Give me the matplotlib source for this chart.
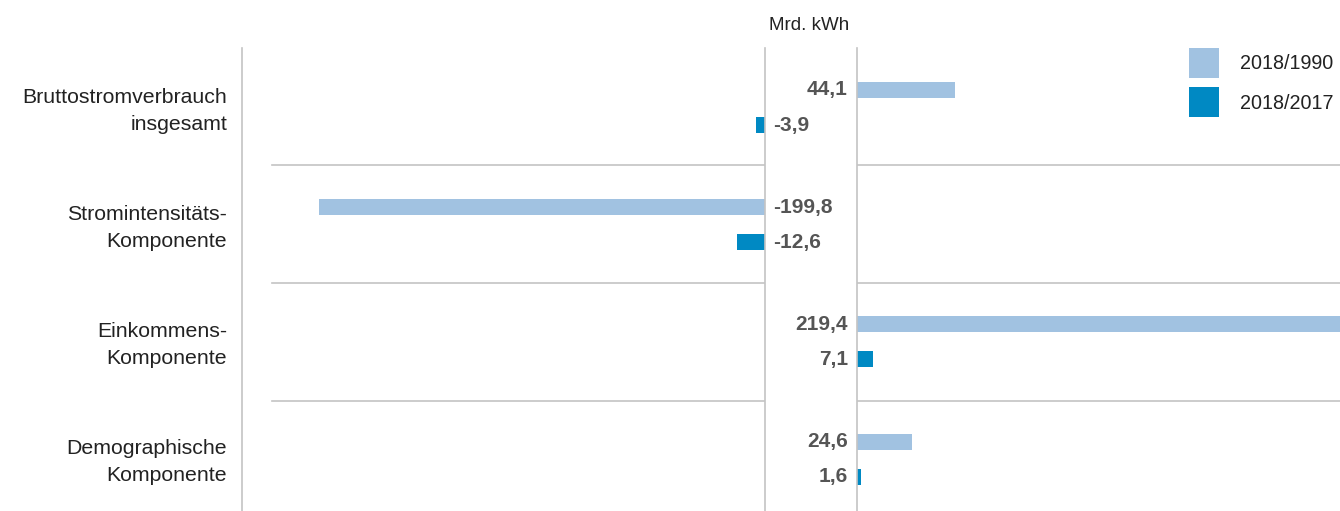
import matplotlib
matplotlib.use("Agg")
import matplotlib.pyplot as plt

categories = ["Bruttostromverbrauch\ninsgesamt", "Stromintensitäts-\nKomponente",
              "Einkommens-\nKomponente", "Demographische\nKomponente"]
series_names = ["2018/1990", "2018/2017"]
values_1990 = [44.1, -199.8, 219.4, 24.6]
values_2017 = [-3.9, -12.6, 7.1, 1.6]
labels_1990 = ["44,1", "-199,8", "219,4", "24,6"]
labels_2017 = ["-3,9", "-12,6", "7,1", "1,6"]
unit_label = "Mrd. kWh"

colors = ["#a1c2e1", "#0089c3"]
grid_col = "#c4c4c4"
num_col = "#555555"
txt_col = "#222222"

W, H = 1340, 511
fig = plt.figure(figsize=(W / 100, H / 100), dpi=100)
plt.rcParams['font.family'] = ['Liberation Sans', 'DejaVu Sans']

px_per_unit = 2.23
top, bottom = 48, 511
xl0, xl1 = 242, 765
xr0, xr1 = 857, 1340
grp_px = 117.2
first_center = 107.5


def fx(p):
    return p / W


axL = fig.add_axes([fx(xl0), 1 - bottom / H, fx(xl1 - xl0), (bottom - top) / H])
axR = fig.add_axes([fx(xr0), 1 - bottom / H, fx(xr1 - xr0), (bottom - top) / H])
axL.set_xlim(-(xl1 - xl0) / px_per_unit, 0)
axR.set_xlim(0, (xr1 - xr0) / px_per_unit)
ylo = (bottom - first_center) / grp_px
yhi = -(first_center - top) / grp_px
for ax in (axL, axR):
    ax.set_ylim(ylo, yhi)
    ax.set_xticks([])
    ax.set_yticks([])
    for s in ax.spines.values():
        s.set_color(grid_col)
        s.set_linewidth(1.2)
    ax.spines['top'].set_visible(False)
    ax.spines['bottom'].set_visible(False)
axR.spines['right'].set_visible(False)

off = 17.5 / grp_px
bh = 16 / grp_px
pos = list(range(len(categories)))
handles = []
for si, (vals, labs) in enumerate([(values_1990, labels_1990), (values_2017, labels_2017)]):
    ys = [p + (-off if si == 0 else off) for p in pos]
    neg = [v if v < 0 else 0 for v in vals]
    posv = [v if v > 0 else 0 for v in vals]
    axL.barh(ys, neg, height=bh, color=colors[si], clip_on=True)
    h = axR.barh(ys, posv, height=bh, color=colors[si], clip_on=True, label=series_names[si])
    handles.append(h)
    for y, v, lab in zip(ys, vals, labs):
        if v >= 0:
            axR.annotate(lab, xy=(0, y), xytext=(-6.5, 0), textcoords='offset points',
                         ha='right', va='center', fontsize=15, fontweight='bold',
                         color=num_col, annotation_clip=False)
        else:
            axL.annotate(lab, xy=(0, y), xytext=(5.8, 0), textcoords='offset points',
                         ha='left', va='center', fontsize=15, fontweight='bold',
                         color=num_col, annotation_clip=False)

for b in [0.49, 1.5, 2.5]:
    axL.axhline(b, xmin=(272 - xl0) / (xl1 - xl0), xmax=1, color=grid_col, lw=1.2)
    axR.axhline(b, color=grid_col, lw=1.2)

for i, cat in enumerate(categories):
    axL.annotate(cat, xy=(0, i), xycoords=('axes fraction', 'data'), xytext=(-10.8, -2.2),
                 textcoords='offset points', ha='right', va='center', fontsize=15.3,
                 color=txt_col, linespacing=1.53, annotation_clip=False)

fig.text(fx(809), 1 - 25 / H, unit_label, ha='center', va='center', fontsize=13.5, color=txt_col)

fig.legend(handles=handles, labels=series_names, loc='upper left',
           bbox_to_anchor=(fx(1189), 1 - 48 / H), frameon=False, fontsize=14.2,
           handlelength=1.53, handleheight=1.93, handletextpad=1.05, labelspacing=0.5,
           borderpad=0, borderaxespad=0, labelcolor=txt_col)

fig.savefig("out.png", dpi=100)
